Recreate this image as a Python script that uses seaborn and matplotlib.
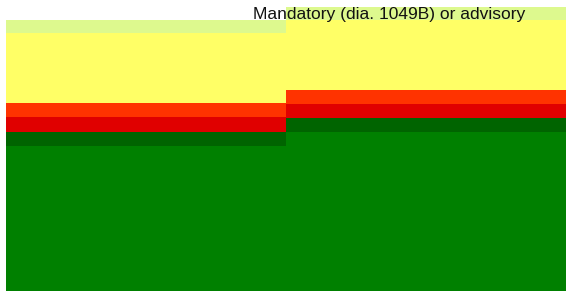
import pandas as pd
import numpy as np
import seaborn as sns
import matplotlib.pyplot as plt

# Stacked layers, bottom to top, for the two columns
groups = ['A', 'B']
layers = ['Green', 'Dark green', 'Red', 'Orange', 'Yellow', 'Pale']
green = [144, 158]
dark_green = [14, 14]
red = [15, 14]
orange = [14, 14]
yellow = [70, 70]
pale = [13, 13]
colors = ['#008000', '#006400', '#e00000', '#ff3300', '#ffff66', '#ddf98e']

values = np.array([green, dark_green, red, orange, yellow, pale])
cumulative = values.cumsum(axis=0)

sns.set_style('white')
plt.rcParams['font.family'] = ['Liberation Sans', 'DejaVu Sans']

fig = plt.figure(figsize=(5.66, 2.93), dpi=100)
ax = fig.add_axes([6 / 566, 2 / 293, 560 / 566, 284 / 293])

# draw from the top layer down so each shorter bar covers the one before
for i in range(len(layers) - 1, -1, -1):
    df = pd.DataFrame({'group': groups, 'value': cumulative[i]})
    sns.barplot(data=df, x='group', y='value', color=colors[i], saturation=1,
                width=1.0, linewidth=0, edgecolor='none', ax=ax)

ax.set_xlim(-0.5, 1.5)
ax.set_ylim(0, 283)
ax.axis('off')

fig.text(253 / 566, 1 - 14 / 293, 'Mandatory (dia. 1049B) or advisory',
         fontsize=12.5, ha='left', va='center', color='#111111')

fig.savefig('out.png', dpi=100)
